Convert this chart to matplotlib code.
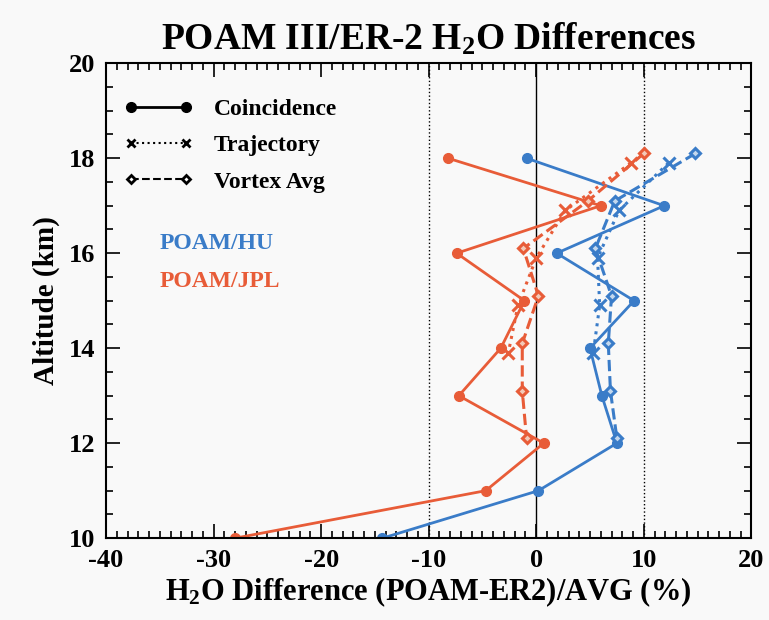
import matplotlib.pyplot as plt
from matplotlib.lines import Line2D
from matplotlib.ticker import MultipleLocator

# Coincidence (solid, filled circles)
altCoin = [18, 17, 16, 15, 14, 13, 12, 11, 10]
huCoin = [-0.9, 11.9, 1.9, 9.1, 5.0, 6.1, 7.5, 0.2, -14.3]
jplCoin = [-8.2, 6.0, -7.4, -1.1, -3.3, -7.2, 0.7, -4.7, -28.0]

# Trajectory (dotted, x markers)
altTraj = [17.9, 16.9, 15.9, 14.9, 13.9]
huTraj = [12.3, 7.7, 5.7, 5.9, 5.3]
jplTraj = [8.8, 2.7, 0.0, -1.7, -2.6]

# Vortex average (dashed, diamonds)
altVort = [18.1, 17.1, 16.1, 15.1, 14.1, 13.1, 12.1]
huVort = [14.8, 7.3, 5.5, 7.0, 6.7, 6.9, 7.5]
jplVort = [10.0, 4.8, -1.2, 0.2, -1.3, -1.3, -0.9]

blue = '#3a7cc8'
red = '#e85c38'
serif = 'Liberation Serif'

plt.rcParams['mathtext.fontset'] = 'custom'
plt.rcParams['mathtext.rm'] = 'Liberation Serif:bold'
plt.rcParams['mathtext.it'] = 'Liberation Serif:bold'
plt.rcParams['mathtext.bf'] = 'Liberation Serif:bold'
plt.rcParams['axes.unicode_minus'] = False

fig = plt.figure(figsize=(7.69, 6.2), dpi=100, facecolor='#f9f9f9')
ax = fig.add_axes([0.138, 0.132, 0.839, 0.766])
ax.set_facecolor('#f9f9f9')

ax.axvline(0, color='black', lw=1.0)
ax.axvline(-10, color='black', lw=1.0, ls=':')
ax.axvline(10, color='black', lw=1.0, ls=':')

for xs, c in [(huCoin, blue), (jplCoin, red)]:
    ax.plot(xs, altCoin, '-', color=c, lw=2, marker='o', ms=7)
for xs, c in [(huTraj, blue), (jplTraj, red)]:
    ax.plot(xs, altTraj, ':', color=c, lw=2.2, marker='x', ms=8, mew=2.2)
for xs, c in [(huVort, blue), (jplVort, red)]:
    ax.plot(xs, altVort, '--', color=c, lw=2.2, marker='D', ms=5, mew=2.2, mfc='#f3c9b8' if c == red else '#c4d8ee')

ax.set_xlim(-40, 20)
ax.set_ylim(10, 20)
ax.xaxis.set_major_locator(MultipleLocator(10))
ax.xaxis.set_minor_locator(MultipleLocator(1))
ax.yaxis.set_major_locator(MultipleLocator(2))
ax.yaxis.set_minor_locator(MultipleLocator(0.5))
ax.tick_params(which='both', direction='in', top=True, right=True, width=1.2)
ax.tick_params(which='major', length=10, labelsize=19, pad=8)
ax.tick_params(which='minor', length=5)
for lab in ax.get_xticklabels() + ax.get_yticklabels():
    lab.set_fontfamily(serif)
    lab.set_fontweight('bold')
for s in ax.spines.values():
    s.set_linewidth(1.5)

ax.set_xlabel('H$_2$O Difference (POAM-ER2)/AVG (%)', fontsize=22, fontweight='bold',
              family=serif, labelpad=2)
ax.set_ylabel('Altitude (km)', fontsize=21, fontweight='bold', family=serif, labelpad=6)
ax.set_title('POAM III/ER-2 H$_2$O Differences', fontsize=27, fontweight='bold',
             family=serif, pad=10)

handles = [
    Line2D([], [], color='black', ls='-', lw=2, marker='o', ms=7),
    Line2D([], [], color='black', ls=':', lw=1.5, marker='x', ms=6, mew=2),
    Line2D([], [], color='black', ls='--', lw=1.5, marker='D', ms=4.5, mew=2, mfc='white'),
]
ax.legend(handles, ['Coincidence', 'Trajectory', 'Vortex Avg'], loc='upper left',
          frameon=False, numpoints=2, handlelength=2.9, handletextpad=0.9,
          labelspacing=0.62, prop={'family': serif, 'weight': 'bold', 'size': 17},
          bbox_to_anchor=(-0.005, 0.97))

ax.text(-35, 16.2, 'POAM/HU', color=blue, fontsize=17, fontweight='bold', family=serif,
        va='center')
ax.text(-35, 15.4, 'POAM/JPL', color=red, fontsize=17, fontweight='bold', family=serif,
        va='center')

plt.savefig('out.png', dpi=100, facecolor=fig.get_facecolor())
